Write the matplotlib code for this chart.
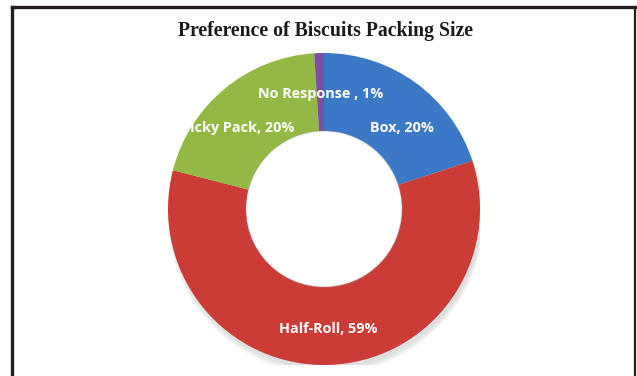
import matplotlib
matplotlib.use("Agg")
import matplotlib.pyplot as plt
import numpy as np
from matplotlib.lines import Line2D
from matplotlib.transforms import Bbox

# Survey shares
categories = ["Box", "Half-Roll", "Ticky Pack", "No Response "]
shares = [20, 59, 20, 1]
colors = ["#3B78C6", "#CC3C37", "#93B944", "#7B4FA6"]
title = "Preference of Biscuits Packing Size"

W, H = 637, 376
fig = plt.figure(figsize=(W / 100, H / 100), dpi=100)
fig.patch.set_facecolor("white")

# donut placed with centre at (324, 209) px and outer radius 156 px
cx, cy, R = 324, 209, 156
ax = fig.add_axes([(cx - R) / W, (H - cy - R) / H, 2 * R / W, 2 * R / H])
ax.set_xlim(-1, 1)
ax.set_ylim(-1, 1)
ax.axis("off")

# soft drop shadow beneath the ring
for k, a in enumerate([0.06, 0.06, 0.07]):
    sh = plt.Circle((0.012, -0.03 - 0.008 * k), 1.0 + 0.006 * k,
                    color="#555555", alpha=a, zorder=0, lw=0)
    ax.add_patch(sh)
ax.add_patch(plt.Circle((0, 0), 0.5, color="white", zorder=0.5, lw=0))

wedges, _ = ax.pie(shares, colors=colors, startangle=90, counterclock=False,
                   radius=1.0, wedgeprops=dict(width=0.5, linewidth=0),
                   normalize=True)
ax.set_xlim(-1, 1)
ax.set_ylim(-1, 1)

# faint rim around the hole
ring = plt.Circle((0, 0), 0.5, fill=False, ec="#999999", lw=1.2, alpha=0.25, zorder=4)
ax.add_patch(ring)

# data labels at the middle of each slice
label_r = [0.72, 0.77, 0.76, 0.74]
label_shift = [-8, 0, 7, 0]  # degrees
clip = Bbox.from_extents(187, 0, W, H)
for w, name, val, r, dth in zip(wedges, categories, shares, label_r, label_shift):
    mid = np.deg2rad((w.theta1 + w.theta2) / 2 + dth)
    t = ax.text(r * np.cos(mid), r * np.sin(mid), f"{name}, {val}%",
                ha="center", va="center", color="white", fontsize=10.4,
                fontweight="bold", family="Open Sans", zorder=5)
    t.set_clip_box(clip)
    t.set_clip_on(True)

fig.text(325 / W, 1 - 31 / H, title, ha="center", va="center",
         family="Liberation Serif", fontweight="bold", fontsize=14.2, color="#1a1a1a")

# outer frame
fig.add_artist(Line2D([12 / W, 635 / W], [1 - 7 / H, 1 - 7 / H],
                      transform=fig.transFigure, color="#231f20", lw=2.4,
                      solid_capstyle="projecting"))
fig.add_artist(Line2D([12 / W, 12 / W], [0, 1 - 7 / H],
                      transform=fig.transFigure, color="#231f20", lw=2.4))
fig.add_artist(Line2D([635 / W, 635 / W], [0, 1 - 7 / H],
                      transform=fig.transFigure, color="#231f20", lw=1.6))

fig.savefig("out.png", dpi=100, facecolor="white")
